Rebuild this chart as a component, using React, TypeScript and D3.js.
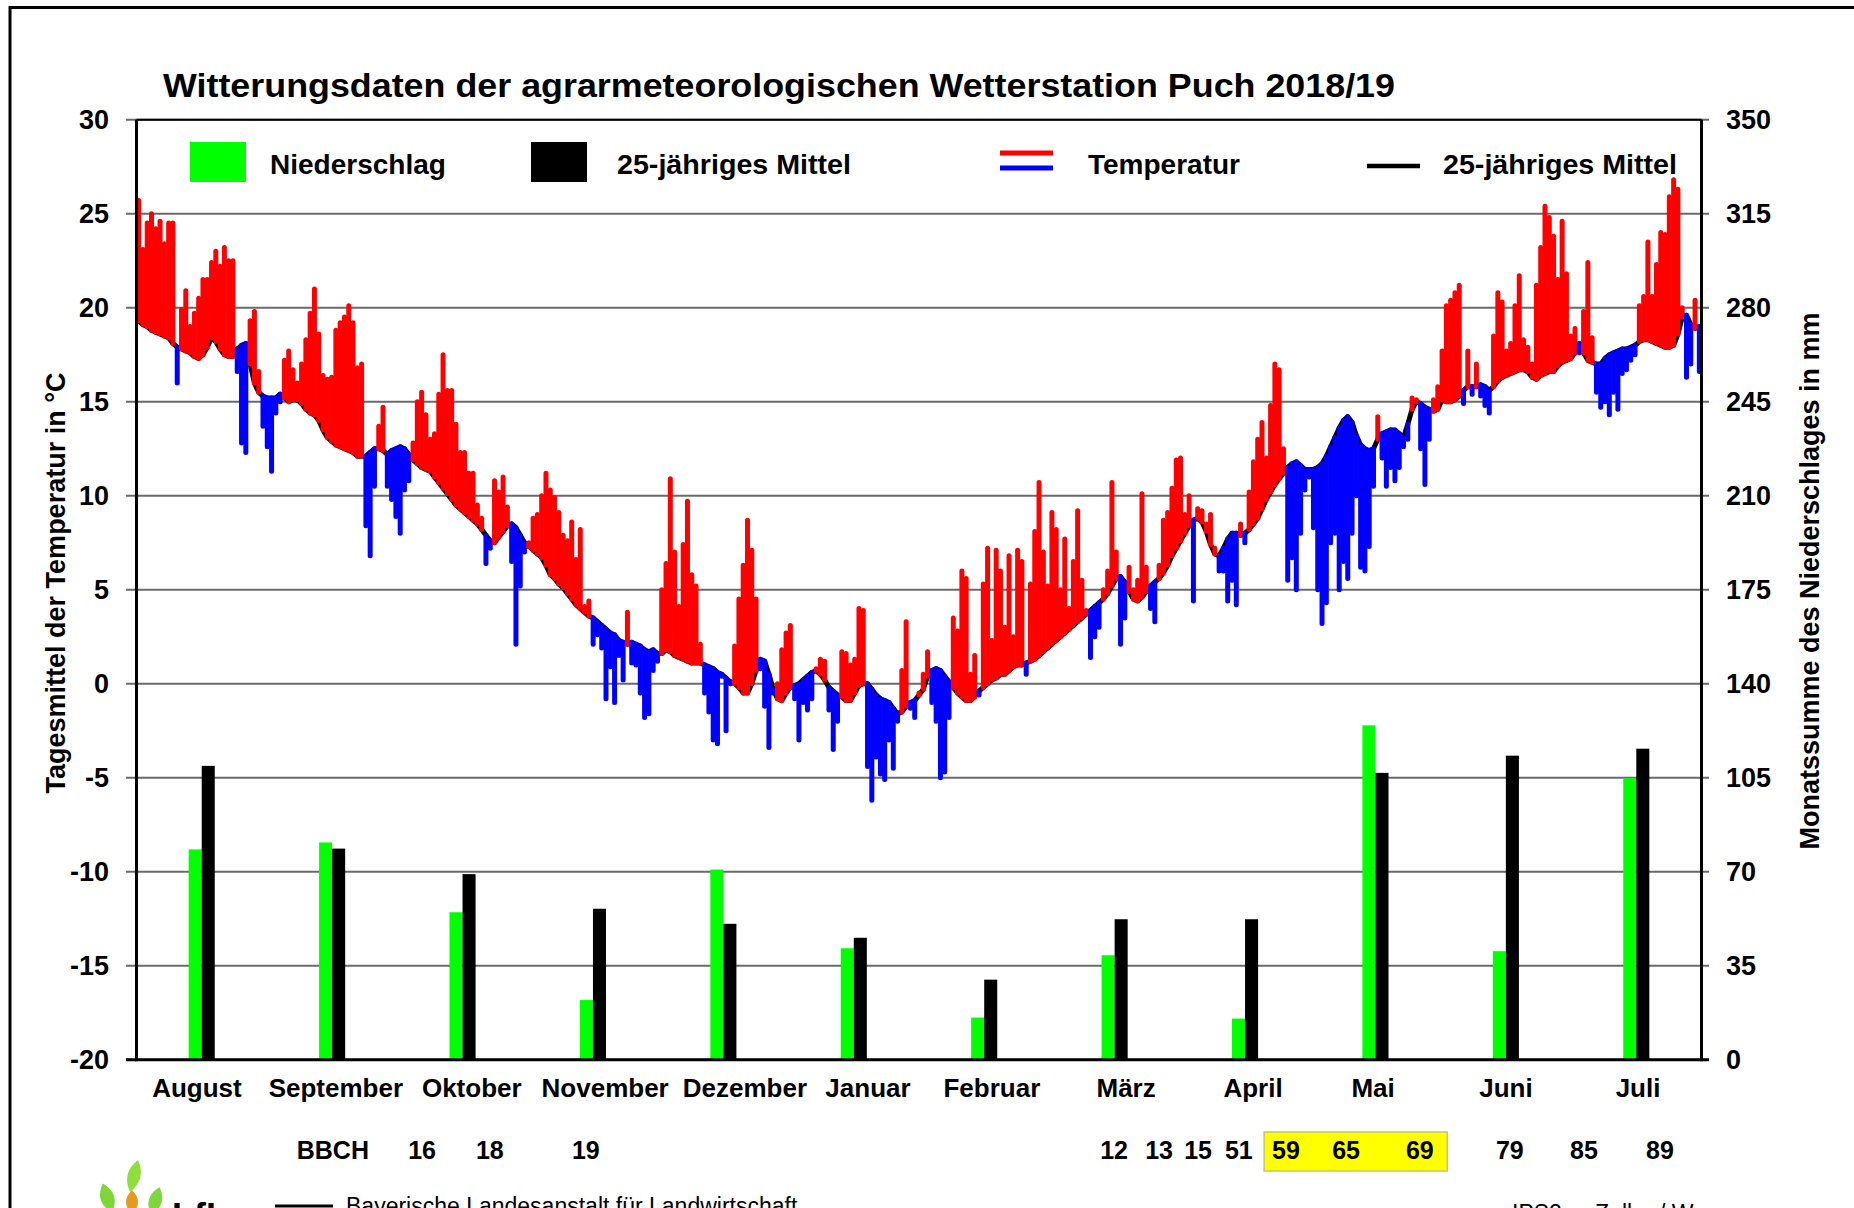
import * as d3 from "d3";
import { useEffect, useRef } from "react";

// monthly precipitation (mm) and 25-year mean
const months = ["August", "September", "Oktober", "November", "Dezember", "Januar", "Februar", "März", "April", "Mai", "Juni", "Juli"];
const monthLabelDays = [14.1, 46.5, 78.2, 109.3, 141.9, 170.6, 199.5, 230.8, 260.4, 288.4, 319.4, 350.2];
const rainfall = [78.3, 80.9, 54.9, 22.2, 70.8, 41.5, 15.7, 38.9, 15.3, 124.5, 40.4, 104.8];
const rainfallMean = [109.4, 78.6, 69.1, 56.2, 50.6, 45.4, 29.8, 52.3, 52.3, 106.8, 113.2, 115.8];

// daily mean temperature (°C), Aug 2018 - Jul 2019
const tempAug = [25.7, 23.1, 24.5, 25.0, 24.2, 24.6, 23.4, 24.5, 24.5, 16.0, 19.9, 20.9, 19.0, 19.7, 20.5, 21.5, 21.5, 22.4, 23.0, 22.2, 23.2, 22.5, 22.5, 16.6, 12.8, 12.3, 19.3, 19.8, 16.6, 13.7, 12.6];
const tempSep = [11.3, 14.4, 15.0, 17.2, 17.7, 16.7, 16.0, 17.0, 18.3, 19.7, 21.0, 18.6, 16.4, 16.2, 16.3, 18.8, 19.2, 19.5, 20.1, 19.2, 16.8, 17.0, 8.4, 6.8, 10.5, 13.7, 14.7, 10.5, 9.8, 8.9];
const tempOct = [8.0, 10.3, 10.8, 12.8, 15.0, 15.5, 14.3, 13.0, 13.3, 15.4, 17.5, 15.6, 15.6, 13.8, 12.3, 12.3, 11.2, 11.2, 9.5, 8.8, 6.4, 7.2, 10.8, 10.2, 11.0, 9.4, 6.5, 2.1, 5.2, 7.0, 7.5];
const tempNov = [8.8, 9.0, 10.0, 11.2, 10.3, 9.9, 9.1, 7.9, 7.6, 8.6, 6.6, 8.2, 4.1, 4.4, 2.1, 2.6, 1.9, -0.8, 0.9, -1.0, 1.5, 0.2, 3.8, 1.1, 1.0, -0.5, -1.8, -1.6, 0.7, 1.2];
const tempDec = [5.0, 6.4, 10.9, 7.0, 4.1, 7.4, 9.7, 5.8, 5.2, 2.1, -0.5, -1.5, -3.0, -3.2, 0.4, -2.5, 0.0, 2.0, 4.5, 6.3, 8.7, 7.1, 4.5, 0.8, -1.2, -3.4, -0.5, 0.0, 1.8, 2.7, 3.1];
const tempJan = [-0.8, -3.0, -1.0, -1.4, -0.8, 0.8, 1.3, 1.2, -1.4, -3.5, -2.0, 1.7, 1.6, 1.0, 1.3, 4.0, 3.9, -4.4, -6.2, -3.9, -4.8, -5.1, -3.0, -4.5, -2.0, 0.7, 3.3, -1.3, -1.8, -0.5, 0.5];
const tempFeb = [1.7, -1.0, -2.0, -5.0, -4.7, -1.8, 3.5, 2.8, 6.0, 5.6, 0.5, 1.5, -0.6, 5.3, 7.2, 2.3, 7.1, 6.0, 3.0, 6.8, 2.5, 7.1, 6.5, 0.5, 5.3, 8.1, 10.7, 7.0];
const tempMar = [5.2, 9.1, 8.2, 5.0, 7.7, 4.0, 6.5, 9.2, 5.5, 3.9, 1.4, 2.5, 3.0, 5.0, 6.0, 10.7, 7.0, 2.1, 3.5, 6.2, 5.0, 5.5, 10.1, 6.2, 4.0, 3.3, 6.3, 8.7, 9.1, 10.4, 11.9];
const tempApr = [12.0, 9.0, 10.0, 4.4, 9.3, 9.2, 8.5, 9.0, 7.2, 6.0, 6.0, 4.4, 5.5, 4.2, 8.5, 7.5, 10.2, 11.8, 13.0, 13.9, 12.0, 14.8, 17.0, 16.7, 12.5, 5.5, 6.7, 5.0, 8.0, 10.3];
const tempMay = [11.0, 8.3, 5.0, 3.2, 4.3, 7.5, 8.0, 5.0, 6.5, 5.6, 8.0, 10.0, 6.2, 6.0, 7.3, 10.5, 14.2, 12.0, 10.5, 11.5, 10.8, 11.5, 12.6, 13.0, 15.2, 15.1, 12.5, 10.6, 13.0, 15.1, 15.8];
const tempJun = [17.7, 20.1, 20.4, 20.8, 21.2, 14.9, 17.7, 15.4, 17.0, 15.3, 14.8, 14.4, 18.5, 20.8, 20.3, 17.7, 18.1, 20.1, 21.7, 18.3, 17.9, 17.0, 21.2, 23.2, 25.4, 24.8, 23.8, 21.5, 24.6, 21.8];
const tempJul = [18.5, 18.9, 17.6, 19.8, 22.4, 18.4, 15.5, 14.7, 15.0, 14.3, 15.5, 14.6, 16.5, 16.7, 17.2, 17.5, 20.1, 20.6, 23.5, 20.6, 22.3, 24.0, 23.9, 25.9, 26.8, 26.3, 20.0, 16.3, 17.0, 20.4, 16.6];

// 25-year mean of the daily temperature
const meanAug = [19.3, 19.1, 19.0, 18.8, 18.7, 18.6, 18.5, 18.4, 18.1, 17.9, 17.8, 17.7, 17.6, 17.4, 17.3, 17.5, 17.9, 18.4, 18.2, 17.8, 17.5, 17.4, 17.4, 17.8, 18.0, 18.1, 17.0, 16.0, 15.5, 15.3, 15.2];
const meanSep = [15.2, 15.2, 15.4, 15.2, 15.0, 15.1, 15.1, 14.9, 14.6, 14.4, 14.3, 14.0, 13.5, 13.1, 12.9, 12.7, 12.6, 12.5, 12.4, 12.3, 12.1, 12.1, 12.1, 12.3, 12.5, 12.5, 12.4, 12.2, 12.4, 12.5];
const meanOct = [12.6, 12.5, 12.2, 11.9, 11.7, 11.5, 11.4, 11.3, 11.0, 10.7, 10.4, 10.1, 9.8, 9.5, 9.3, 9.1, 8.9, 8.7, 8.5, 8.2, 7.9, 7.6, 7.5, 7.8, 8.1, 8.4, 8.5, 8.3, 7.9, 7.5, 7.3];
const meanNov = [7.1, 6.9, 6.7, 6.3, 5.8, 5.6, 5.3, 5.1, 4.8, 4.5, 4.2, 4.0, 3.8, 3.6, 3.5, 3.3, 3.1, 2.9, 2.7, 2.6, 2.3, 2.2, 2.1, 2.2, 2.1, 2.0, 1.8, 1.7, 1.8, 1.6];
const meanDec = [1.6, 1.8, 1.7, 1.5, 1.4, 1.3, 1.2, 1.1, 1.1, 1.1, 1.0, 0.9, 0.8, 0.6, 0.5, 0.3, 0.1, 0.0, -0.2, -0.5, -0.5, 0.0, 0.7, 1.3, 1.2, 0.5, -0.3, -0.8, -0.9, -0.5, -0.2];
const meanJan = [-0.1, 0.0, 0.2, 0.4, 0.6, 0.7, 0.5, 0.2, -0.2, -0.4, -0.6, -0.7, -0.9, -0.9, -0.5, -0.1, 0.0, 0.0, -0.3, -0.6, -0.8, -0.9, -1.0, -1.3, -1.6, -1.5, -1.2, -1.0, -0.9, -0.6, -0.3];
const meanFeb = [0.4, 0.7, 0.8, 0.7, 0.4, 0.1, -0.2, -0.5, -0.7, -0.9, -0.9, -0.7, -0.4, -0.2, 0.0, 0.2, 0.3, 0.5, 0.5, 0.7, 0.9, 1.0, 1.0, 1.1, 1.2, 1.3, 1.5, 1.7];
const meanMar = [1.9, 2.1, 2.3, 2.5, 2.7, 2.9, 3.1, 3.3, 3.5, 3.7, 3.9, 4.1, 4.3, 4.5, 4.8, 5.2, 5.6, 5.7, 5.4, 4.9, 4.5, 4.4, 4.6, 4.9, 5.2, 5.4, 5.6, 5.9, 6.3, 6.8, 7.2];
const meanApr = [7.6, 8.0, 8.4, 8.7, 8.8, 8.6, 8.1, 7.4, 6.9, 6.8, 7.2, 7.7, 8.0, 8.0, 7.9, 8.0, 8.2, 8.5, 8.8, 9.3, 9.8, 10.2, 10.6, 10.9, 11.2, 11.5, 11.7, 11.8, 11.6, 11.4];
const meanMay = [11.4, 11.4, 11.5, 11.7, 12.1, 12.6, 13.1, 13.6, 14.0, 14.2, 13.9, 13.2, 12.7, 12.5, 12.4, 12.5, 13.0, 13.3, 13.4, 13.5, 13.5, 13.3, 13.1, 13.8, 14.6, 15.0, 14.9, 14.7, 14.6, 14.5, 14.6];
const meanJun = [15.1, 15.0, 15.0, 15.1, 15.3, 15.6, 15.8, 15.8, 15.8, 15.9, 15.8, 15.6, 15.8, 16.1, 16.3, 16.4, 16.5, 16.6, 16.7, 16.7, 16.6, 16.3, 16.2, 16.4, 16.5, 16.6, 16.6, 16.9, 17.1, 17.2];
const meanJul = [17.3, 17.6, 18.1, 17.6, 17.2, 17.1, 17.0, 17.0, 17.3, 17.5, 17.6, 17.7, 17.8, 17.8, 17.9, 18.0, 18.2, 18.3, 18.3, 18.2, 18.1, 18.0, 17.9, 17.9, 18.0, 18.6, 19.5, 19.6, 19.1, 18.9, 19.0];

const tempTicks = [30, 25, 20, 15, 10, 5, 0, -5, -10, -15, -20];
const rainTicks = [350, 315, 280, 245, 210, 175, 140, 105, 70, 35, 0];

// BBCH growth stages, placed on the day of the season
const bbchStages = ["16", "18", "19", "12", "13", "15", "51", "59", "65", "69", "79", "85", "89"];
const bbchDays = [66.6, 82.4, 104.8, 228.0, 238.5, 247.6, 257.1, 268.1, 282.1, 299.3, 320.3, 337.6, 355.3];
const bbchHighlight = [263, 305.7];

const FONT = "'Liberation Sans', Arial, sans-serif";

export default function App() {
    const svgRef = useRef(null);
    const width = 1854;
    const height = 1208;

    useEffect(() => {
        const svg = d3.select(svgRef.current);
        svg.selectAll("*").remove();

        const left = 136.5, right = 1701.5, top = 119.7, bottom = 1059.7;

        const temps = [...tempAug, ...tempSep, ...tempOct, ...tempNov, ...tempDec, ...tempJan, ...tempFeb, ...tempMar, ...tempApr, ...tempMay, ...tempJun, ...tempJul];
        const means = [...meanAug, ...meanSep, ...meanOct, ...meanNov, ...meanDec, ...meanJan, ...meanFeb, ...meanMar, ...meanApr, ...meanMay, ...meanJun, ...meanJul];
        const days = temps.map((t, i) => ({ i, t, m: means[i] }));

        const xDay = d3.scaleLinear().domain([0, 365]).range([left, right]);
        const xMonth = d3.scaleBand().domain(months).range([left, right]);
        const yTemp = d3.scaleLinear().domain([-20, 30]).range([bottom, top]);
        const yRain = d3.scaleLinear().domain([0, 350]).range([bottom, top]);

        svg.append("rect").attr("width", width).attr("height", height).attr("fill", "white");

        // outer frame
        svg.append("rect")
            .attr("x", 10).attr("y", 7.5)
            .attr("width", width).attr("height", height)
            .attr("fill", "none").attr("stroke", "black").attr("stroke-width", 3);

        svg.append("text")
            .attr("x", 163).attr("y", 97)
            .attr("font-family", FONT).attr("font-weight", "bold").attr("font-size", 33)
            .attr("textLength", 1232).attr("lengthAdjust", "spacingAndGlyphs")
            .text("Witterungsdaten der agrarmeteorologischen Wetterstation Puch 2018/19");

        // grid lines
        svg.append("g")
            .selectAll("line")
            .data(tempTicks)
            .join("line")
            .attr("x1", left - 10.5).attr("x2", right + 7.5)
            .attr("y1", d => yTemp(d)).attr("y2", d => yTemp(d))
            .attr("stroke", "#6a6a6a").attr("stroke-width", 2);

        // precipitation bars
        const barW = xMonth.bandwidth() * 0.1;
        const rain = svg.append("g");
        rain.selectAll("rect.now")
            .data(rainfall)
            .join("rect")
            .attr("class", "now")
            .attr("x", (d, i) => xMonth(months[i]) + xMonth.bandwidth() / 2 - barW)
            .attr("y", d => yRain(d))
            .attr("width", barW)
            .attr("height", d => yRain(0) - yRain(d))
            .attr("fill", "#00ff00");
        rain.selectAll("rect.avg")
            .data(rainfallMean)
            .join("rect")
            .attr("class", "avg")
            .attr("x", (d, i) => xMonth(months[i]) + xMonth.bandwidth() / 2)
            .attr("y", d => yRain(d))
            .attr("width", barW)
            .attr("height", d => yRain(0) - yRain(d))
            .attr("fill", "black");

        // 25-year mean temperature
        const meanLine = d3.line()
            .x(d => xDay(d.i + 0.5))
            .y(d => yTemp(d.m));
        svg.append("path")
            .attr("d", meanLine(days))
            .attr("fill", "none")
            .attr("stroke", "black")
            .attr("stroke-width", 5)
            .attr("stroke-linejoin", "round");

        // daily deviation bars
        svg.append("g")
            .selectAll("line")
            .data(days)
            .join("line")
            .attr("x1", d => xDay(d.i + 0.5)).attr("x2", d => xDay(d.i + 0.5))
            .attr("y1", d => yTemp(d.m)).attr("y2", d => yTemp(d.t))
            .attr("stroke", d => d.t >= d.m ? "#ff0000" : "#0000ff")
            .attr("stroke-width", 5)
            .attr("stroke-linecap", "round");

        // plot frame
        const frame = svg.append("g").attr("stroke", "black");
        frame.append("line").attr("x1", left).attr("x2", right).attr("y1", top).attr("y2", top).attr("stroke-width", 2);
        frame.append("line").attr("x1", left - 10.5).attr("x2", right + 7.5).attr("y1", bottom).attr("y2", bottom).attr("stroke-width", 3);
        frame.append("line").attr("x1", left).attr("x2", left).attr("y1", top).attr("y2", bottom + 1.5).attr("stroke-width", 3);
        frame.append("line").attr("x1", right).attr("x2", right).attr("y1", top).attr("y2", bottom + 1.5).attr("stroke-width", 3);

        // tick labels
        svg.append("g")
            .selectAll("text")
            .data(tempTicks)
            .join("text")
            .attr("x", 109).attr("y", d => yTemp(d))
            .attr("dy", "0.36em")
            .attr("text-anchor", "end")
            .attr("font-family", FONT).attr("font-weight", "bold").attr("font-size", 27)
            .text(d => d);
        svg.append("g")
            .selectAll("text")
            .data(rainTicks)
            .join("text")
            .attr("x", 1726).attr("y", d => yRain(d))
            .attr("dy", "0.36em")
            .attr("font-family", FONT).attr("font-weight", "bold").attr("font-size", 27)
            .text(d => d);

        // axis titles
        svg.append("text")
            .attr("transform", "translate(56, 583) rotate(-90)")
            .attr("dy", "0.35em")
            .attr("text-anchor", "middle")
            .attr("font-family", FONT).attr("font-weight", "bold").attr("font-size", 27)
            .text("Tagesmittel der Temperatur in °C");
        svg.append("text")
            .attr("transform", "translate(1810, 581) rotate(-90)")
            .attr("dy", "0.35em")
            .attr("text-anchor", "middle")
            .attr("font-family", FONT).attr("font-weight", "bold").attr("font-size", 27)
            .text("Monatssumme des Niederschlages in mm");

        // legend
        const legend = svg.append("g").attr("font-family", FONT).attr("font-weight", "bold").attr("font-size", 28);
        legend.append("rect").attr("x", 190).attr("y", 142).attr("width", 56).attr("height", 40).attr("fill", "#00ff00");
        legend.append("text").attr("x", 270).attr("y", 174).text("Niederschlag");
        legend.append("rect").attr("x", 531).attr("y", 142).attr("width", 56).attr("height", 40).attr("fill", "black");
        legend.append("text").attr("x", 617).attr("y", 174).attr("textLength", 234).attr("lengthAdjust", "spacingAndGlyphs").text("25-jähriges Mittel");
        legend.append("line").attr("x1", 1000).attr("x2", 1053).attr("y1", 153).attr("y2", 153).attr("stroke", "#ff0000").attr("stroke-width", 5);
        legend.append("line").attr("x1", 1000).attr("x2", 1053).attr("y1", 168).attr("y2", 168).attr("stroke", "#0000ff").attr("stroke-width", 5);
        legend.append("text").attr("x", 1088).attr("y", 174).text("Temperatur");
        legend.append("line").attr("x1", 1367).attr("x2", 1420).attr("y1", 166).attr("y2", 166).attr("stroke", "black").attr("stroke-width", 4.5);
        legend.append("text").attr("x", 1443).attr("y", 174).attr("textLength", 234).attr("lengthAdjust", "spacingAndGlyphs").text("25-jähriges Mittel");

        // month labels
        svg.append("g")
            .selectAll("text")
            .data(months)
            .join("text")
            .attr("x", (d, i) => xDay(monthLabelDays[i]))
            .attr("y", 1097)
            .attr("text-anchor", "middle")
            .attr("font-family", FONT).attr("font-weight", "bold").attr("font-size", 26)
            .text(d => d);

        // BBCH stages
        svg.append("rect")
            .attr("x", xDay(bbchHighlight[0])).attr("y", 1132)
            .attr("width", xDay(bbchHighlight[1]) - xDay(bbchHighlight[0])).attr("height", 39)
            .attr("fill", "#ffff00").attr("stroke", "#c8c85a").attr("stroke-width", 1.5);
        const bbch = svg.append("g").attr("font-family", FONT).attr("font-weight", "bold").attr("font-size", 25).attr("text-anchor", "middle");
        bbch.append("text").attr("x", xDay(45.8)).attr("y", 1159).text("BBCH");
        bbch.selectAll("text.stage")
            .data(bbchStages)
            .join("text")
            .attr("class", "stage")
            .attr("x", (d, i) => xDay(bbchDays[i]))
            .attr("y", 1159)
            .text(d => d);

        // footer logo
        const leaf = (cx, by, h, w) => `M${cx},${by} Q${cx - w},${by - h * 0.5} ${cx},${by - h} Q${cx + w},${by - h * 0.5} ${cx},${by} Z`;
        const logo = svg.append("g");
        logo.append("path").attr("d", leaf(112, 1212, 30, 14)).attr("fill", "#7fd63a").attr("transform", "rotate(-18 112 1212)");
        logo.append("path").attr("d", leaf(130, 1192, 33, 13)).attr("fill", "#8ede3c").attr("transform", "rotate(14 130 1192)");
        logo.append("path").attr("d", leaf(132, 1214, 24, 12)).attr("fill", "#e49a1c");
        logo.append("path").attr("d", leaf(151, 1214, 28, 13)).attr("fill", "#7fd63a").attr("transform", "rotate(18 151 1214)");
        svg.append("text")
            .attr("x", 172).attr("y", 1229)
            .attr("font-family", FONT).attr("font-weight", "bold").attr("font-size", 36)
            .text("LfL");
        svg.append("line").attr("x1", 275).attr("x2", 333).attr("y1", 1206).attr("y2", 1206).attr("stroke", "black").attr("stroke-width", 3);
        svg.append("text")
            .attr("x", 346).attr("y", 1214)
            .attr("font-family", FONT).attr("font-size", 23)
            .text("Bayerische Landesanstalt für Landwirtschaft");
        svg.append("text")
            .attr("x", 1512).attr("y", 1221)
            .attr("font-family", FONT).attr("font-size", 23)
            .text("IPS2a - Zeller / W");
    }, [svgRef.current]);

    return (
        <svg
            ref={svgRef}
            width={width}
            height={height}
            style={{ position: "absolute", left: 0, top: 0, display: "block" }}
        />
    );
}
